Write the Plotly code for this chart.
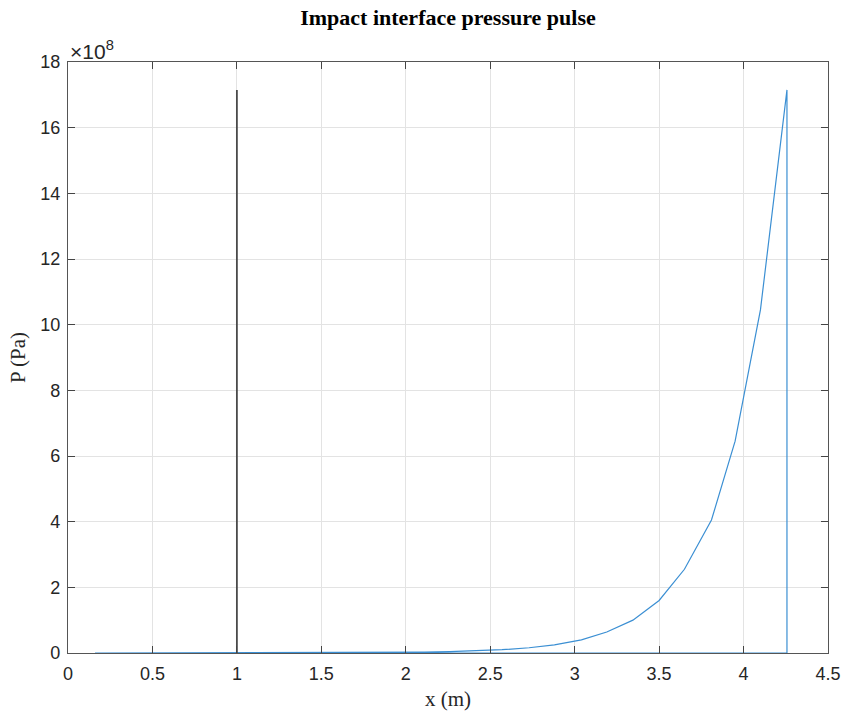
import plotly.graph_objects as go

# Pressure pulse along x (m); P in Pa
x_curve = [0.16, 1.65, 1.80, 1.96, 2.11, 2.26, 2.42, 2.57, 2.73, 2.88, 3.04, 3.19, 3.345,
           3.50, 3.65, 3.81, 3.95, 4.10, 4.257, 4.257, 0.16]
p_curve = [0.0, 0.004e8, 0.008e8, 0.015e8, 0.025e8, 0.04e8, 0.065e8, 0.10e8, 0.16e8,
           0.25e8, 0.40e8, 0.64e8, 1.00e8, 1.60e8, 2.55e8, 4.05e8, 6.45e8, 10.45e8,
           17.15e8, 0.0, 0.0]
x_marker = [1.0, 1.0]
p_marker = [0.0, 17.15e8]

x_ticks = [0, 0.5, 1, 1.5, 2, 2.5, 3, 3.5, 4, 4.5]
x_ticktext = ["0", "0.5", "1", "1.5", "2", "2.5", "3", "3.5", "4", "4.5"]
y_ticks = [0, 2e8, 4e8, 6e8, 8e8, 10e8, 12e8, 14e8, 16e8, 18e8]
y_ticktext = ["0", "2", "4", "6", "8", "10", "12", "14", "16", "18"]

fig = go.Figure()
fig.add_trace(go.Scatter(x=x_curve, y=p_curve, mode="lines",
                         line=dict(color="#3b8fd3", width=1.2), showlegend=False,
                         hoverinfo="skip"))
fig.add_trace(go.Scatter(x=x_marker, y=p_marker, mode="lines",
                         line=dict(color="#4a4a4a", width=1.8), showlegend=False,
                         hoverinfo="skip"))

axis_common = dict(showgrid=True, gridcolor="#e3e3e3", gridwidth=1,
                   showline=True, linecolor="#555555", linewidth=1.2, mirror="ticks",
                   ticks="inside", ticklen=7, tickcolor="#444444", tickwidth=1,
                   zeroline=False, automargin=False,
                   tickfont=dict(family="Liberation Sans, Arial", size=18, color="#262626"))

fig.update_layout(
    width=845, height=714,
    margin=dict(l=68, r=17, t=62, b=61),
    paper_bgcolor="white", plot_bgcolor="white",
    title=dict(text="<b>Impact interface pressure pulse</b>", x=0.5, xanchor="center",
               xref="paper", y=1, yref="container", yanchor="top", pad=dict(t=10),
               font=dict(family="Liberation Serif, Times New Roman", size=22, color="black")),
    xaxis=dict(range=[0, 4.5], tickvals=x_ticks, ticktext=x_ticktext, ticklabelstandoff=4,
               title=dict(text="x (m)", standoff=8,
                          font=dict(family="Liberation Serif, Times New Roman", size=21, color="#262626")),
               **axis_common),
    yaxis=dict(range=[0, 18e8], tickvals=y_ticks, ticktext=y_ticktext, ticklabelstandoff=3,
               title=dict(text="P (Pa)", standoff=8,
                          font=dict(family="Liberation Serif, Times New Roman", size=21, color="#262626")),
               **axis_common),
    annotations=[dict(text="\u00d710<sup>8</sup>", x=0, y=1, xref="paper", yref="paper",
                      xanchor="left", yanchor="bottom", showarrow=False, yshift=-3,
                      font=dict(family="Liberation Sans, Arial", size=21, color="#262626"))],
)

fig.write_html("out.html")
